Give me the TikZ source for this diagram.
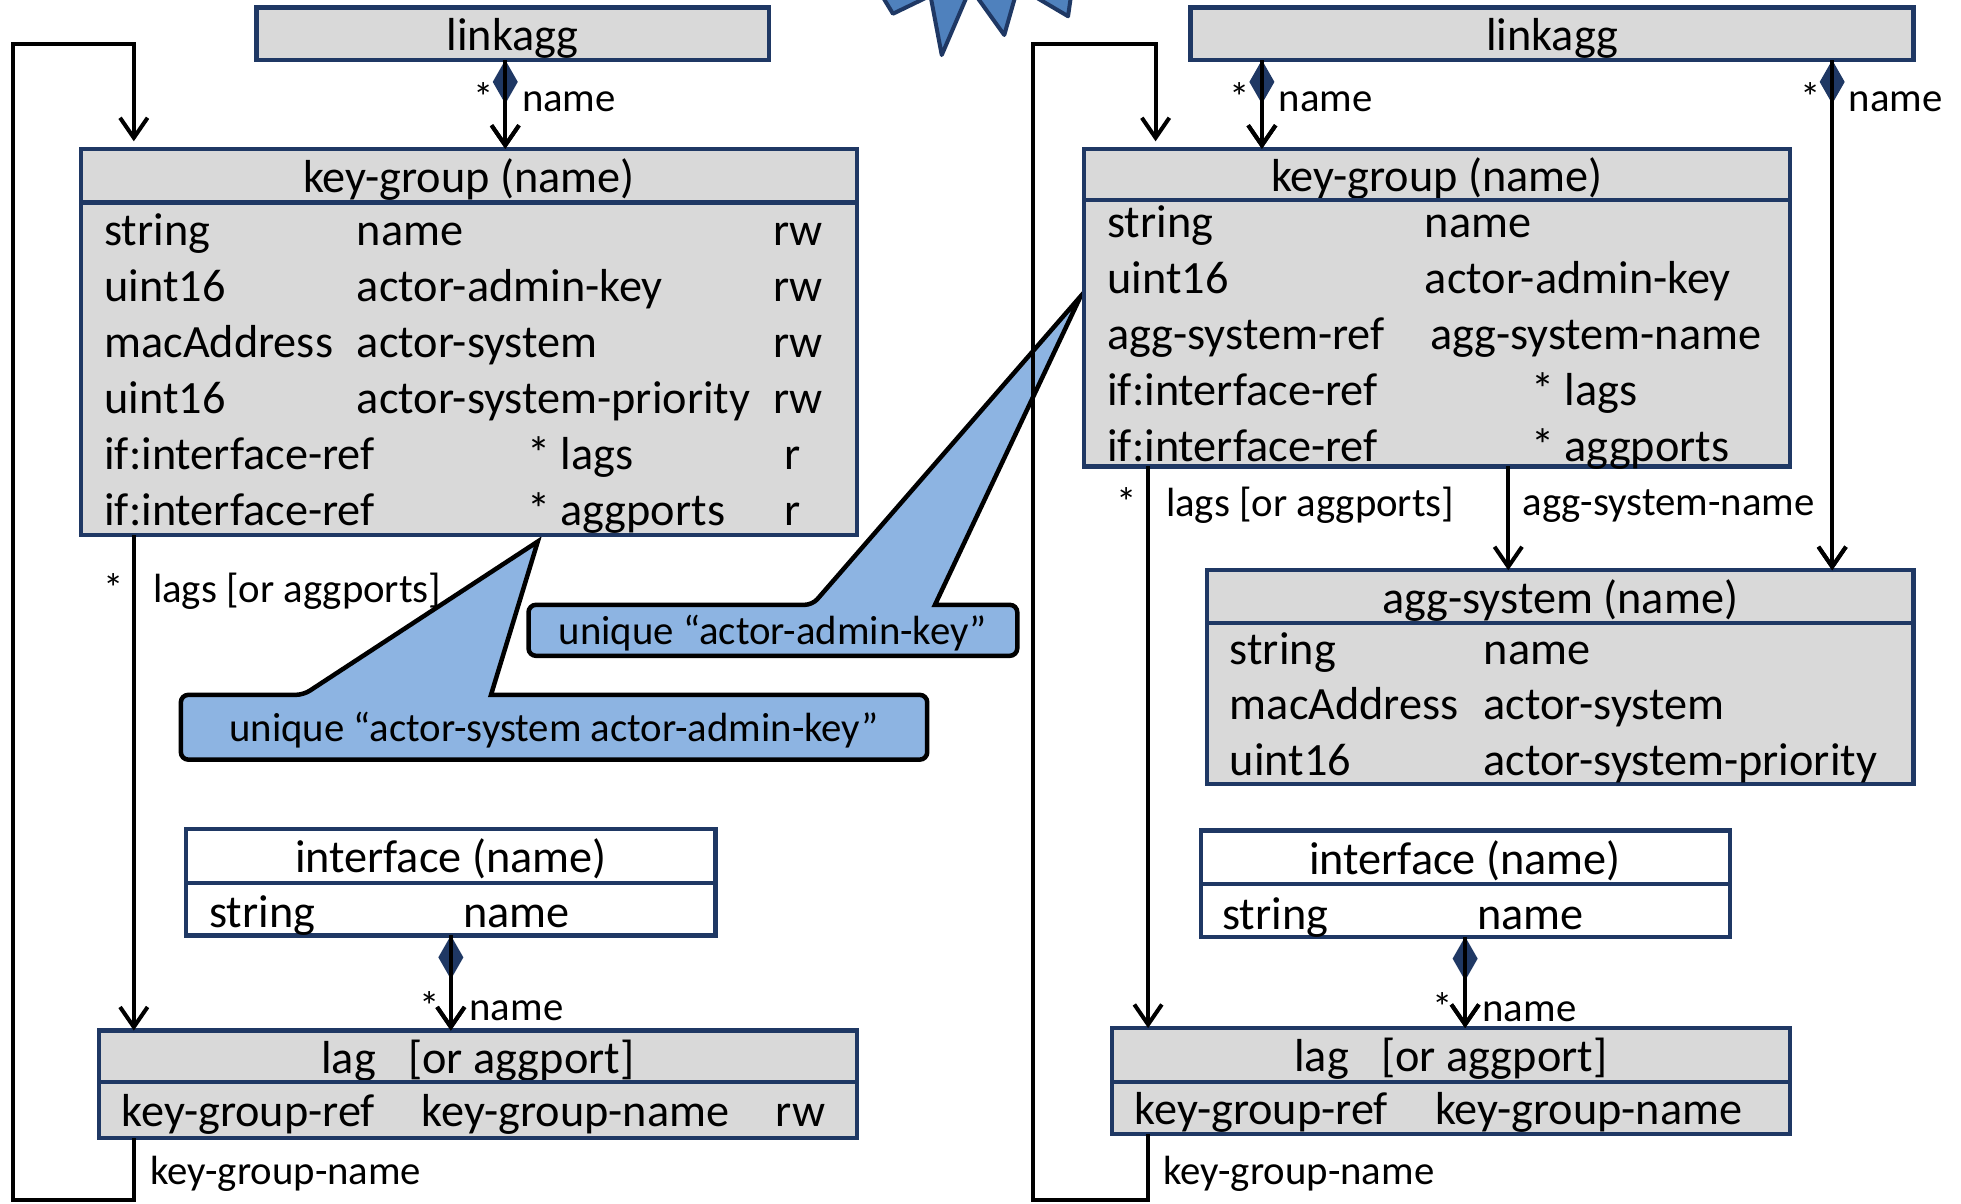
\documentclass[tikz,border=0pt]{standalone}
\usepackage{fontspec}
\setmainfont{Carlito}
\usetikzlibrary{positioning,calc,arrows.meta,backgrounds}
\definecolor{navy}{HTML}{1F3864}
\definecolor{boxgray}{HTML}{D9D9D9}
\definecolor{noteblue}{HTML}{8DB4E2}
\definecolor{starblue}{HTML}{4F81BD}

\begin{document}
\begin{tikzpicture}[x=0.5pt, y=-0.5pt,
        head/.style={rectangle, draw=navy, fill=boxgray, line width=1.7pt, outer sep=0pt, inner sep=0pt, text height=17pt, text depth=3.5pt, font=\fontsize{18.5}{22}\selectfont},
        cell/.style={anchor=base west, inner sep=0pt, font=\fontsize{18.5}{22}\selectfont},
        lbl/.style={anchor=base west, inner sep=0pt, font=\fontsize{16.3}{19}\selectfont},
        mult/.style={lbl, anchor=base east},
        notetext/.style={inner sep=0pt, text height=14.5pt, text depth=3.3pt, font=\fontsize{16.3}{19}\selectfont},
        note/.style={draw=black, fill=noteblue, line width=1.8pt},
        conn/.style={line width=1.6pt, -{Straight Barb[length=8pt,width=11pt]}},
        comp/.style={line width=1.6pt, {Diamond[length=17.5pt,width=10pt,color=navy,fill=navy]}-{Straight Barb[length=8pt,width=11pt]}, postaction={draw, -{Straight Barb[length=8pt,width=11pt]}}},
    ]
    \useasboundingbox (0,0) rectangle (1568,962);

    \draw[line width=1.6pt, draw=navy, fill=starblue, line join=round] (700,-12) -- (714,11) -- (744,-3.5) -- (753,44) -- (776,-9.6) -- (803,28) -- (814,-10.6) -- (854,13) -- (858,-15) -- (780,-60) -- cycle;

    % left model
    \node[head, minimum width=205pt, minimum height=21pt] (lkL) at (410,27) {linkagg};
    \node[head, minimum width=310pt, minimum height=21.5pt] (kgLh) at (375,140.5) {key-group (name)};
    \node[head, minimum width=310pt, minimum height=133pt, below=0pt of kgLh] (kgLb) {};
    \node[head, fill=white, minimum width=211.5pt, minimum height=21.5pt] (ifLh) at (360.5,684.5) {interface (name)};
    \node[head, fill=white, minimum width=211.5pt, minimum height=21pt, below=0pt of ifLh] (ifLb) {};
    \node[head, minimum width=303pt, minimum height=20.5pt] (lagLh) at (382,844.5) {lag\hspace{13pt}[or aggport]};
    \node[head, minimum width=303pt, minimum height=22.5pt, below=0pt of lagLh] (lagLb) {};

    \foreach \ty/\nm/\ac [count=\i] in {string/name/rw, uint16/actor-admin-key/rw, macAddress/actor-system/rw, uint16/actor-system-priority/rw, if:interface-ref/{\hspace*{68pt}* lags}/{\hspace*{4.5pt}r}, if:interface-ref/{\hspace*{68pt}* aggports}/{\hspace*{4.5pt}r}} {
        \node[cell] (kgL-t\i) at ($(kgLb.north west)+(18,{34+44.8*(\i-1)})$) {\ty};
        \node[cell] (kgL-n\i) at ($(kgLb.north west)+(220,{34+44.8*(\i-1)})$) {\nm};
        \node[cell] (kgL-a\i) at ($(kgLb.north west)+(553,{34+44.8*(\i-1)})$) {\ac};
    }
    \node[cell] (ifL-t) at ($(ifLb.north west)+(18,36)$) {string};
    \node[cell] (ifL-n) at ($(ifLb.north west)+(221,36)$) {name};
    \node[cell] (lagL-t) at ($(lagLb.north west)+(18,36)$) {key-group-ref};
    \node[cell] (lagL-n) at ($(lagLb.north west)+(258,36)$) {key-group-name};
    \node[cell] (lagL-a) at ($(lagLb.north west)+(541,36)$) {rw};

    \coordinate (loopLb) at (10,959.5);
    \coordinate (loopLt) at (10,35);
    \draw[comp] ([xshift=-3pt]lkL.south) -- ([xshift=-3pt]lkL.south |- kgLh.north);
    \draw[conn] ([xshift=21pt]kgLb.south west) -- ([xshift=21pt]kgLb.south west |- lagLh.north);
    \draw[comp] (ifLb.south) -- (ifLb.south |- lagLh.north);
    \draw[conn, shorten >=3pt] ([xshift=14pt]lagLb.south west) |- (loopLb) -- (loopLt) -| ([xshift=21pt]kgLh.north west);

    \node[mult] (mL1) at (395,89) {*};
    \node[lbl] (nL1) at (417,89) {name};
    \node[mult] (mL2) at (99,482) {*};
    \node[lbl] (nL2) at (122,482) {lags [or aggports]};
    \node[mult] (mL3) at (352,816) {*};
    \node[lbl] (nL3) at (375,816) {name};
    \node[lbl] (nL4) at (120,947) {key-group-name};

    % notes
    \node[notetext, minimum width=298pt, minimum height=25.5pt] (c1) at (443,581.5) {unique “actor-system actor-admin-key”};
    \node[notetext, minimum width=195pt, minimum height=20pt] (c2) at (618,504) {unique “actor-admin-key”};
    \coordinate (c1tip) at (430,433);
    \coordinate (c2tip) at (864,237);
    \begin{scope}[on background layer]
        \draw[note] ([xshift=49pt]c1.north west) -- (c1tip) -- ([xshift=124pt]c1.north west) [rounded corners=3pt] -- (c1.north east) -- (c1.south east) -- (c1.south west) -- (c1.north west) -- cycle;
        \draw[note] ([xshift=113.5pt]c2.north west) -- (c2tip) -- ([xshift=162.5pt]c2.north west) [rounded corners=3pt] -- (c2.north east) -- (c2.south east) -- (c2.south west) -- (c2.north west) -- cycle;
    \end{scope}

    % right model
    \node[head, minimum width=289pt, minimum height=21pt] (lkR) at (1241,27) {linkagg};
    \node[head, minimum width=282pt, minimum height=20.5pt] (kgRh) at (1149,139.5) {key-group (name)};
    \node[head, minimum width=282pt, minimum height=106.5pt, below=0pt of kgRh] (kgRb) {};
    \node[head, minimum width=282.5pt, minimum height=21pt] (aggh) at (1247.5,477) {agg-system (name)};
    \node[head, minimum width=282.5pt, minimum height=64.5pt, below=0pt of aggh] (aggb) {};
    \node[head, fill=white, minimum width=211.5pt, minimum height=21.5pt] (ifRh) at (1171.5,685.5) {interface (name)};
    \node[head, fill=white, minimum width=211.5pt, minimum height=21pt, below=0pt of ifRh] (ifRb) {};
    \node[head, minimum width=271pt, minimum height=21.5pt] (lagRh) at (1160,843.5) {lag\hspace{13pt}[or aggport]};
    \node[head, minimum width=271pt, minimum height=21pt, below=0pt of lagRh] (lagRb) {};

    \foreach \ty/\nm [count=\i] in {string/name, uint16/actor-admin-key, agg-system-ref/{\hspace*{2pt}agg-system-name}, if:interface-ref/{\hspace*{42.5pt}* lags}, if:interface-ref/{\hspace*{42.5pt}* aggports}} {
        \node[cell] (kgR-t\i) at ($(kgRb.north west)+(18,{30+44.8*(\i-1)})$) {\ty};
        \node[cell] (kgR-n\i) at ($(kgRb.north west)+(272,{30+44.8*(\i-1)})$) {\nm};
    }
    \foreach \ty/\nm [count=\i] in {string/name, macAddress/actor-system, uint16/actor-system-priority} {
        \node[cell] (agg-t\i) at ($(aggb.north west)+(18,{33+44.5*(\i-1)})$) {\ty};
        \node[cell] (agg-n\i) at ($(aggb.north west)+(221,{33+44.5*(\i-1)})$) {\nm};
    }
    \node[cell] (ifR-t) at ($(ifRb.north west)+(17,36)$) {string};
    \node[cell] (ifR-n) at ($(ifRb.north west)+(221,36)$) {name};
    \node[cell] (lagR-t) at ($(lagRb.north west)+(18,34)$) {key-group-ref};
    \node[cell] (lagR-n) at ($(lagRb.north west)+(258,34)$) {key-group-name};

    \coordinate (loopRb) at (826,959.5);
    \coordinate (loopRt) at (826,35);
    \draw[comp] ([xshift=28.5pt]lkR.south west) -- ([xshift=28.5pt]lkR.south west |- kgRh.north);
    \draw[comp] ([xshift=-32.5pt]lkR.south east) -- ([xshift=-32.5pt]lkR.south east |- aggh.north);
    \draw[conn] ([xshift=25.5pt]kgRb.south west) -- ([xshift=25.5pt]kgRb.south west |- lagRh.north);
    \draw[conn] ([xshift=169.5pt]kgRb.south west) -- ([xshift=169.5pt]kgRb.south west |- aggh.north);
    \draw[comp] (ifRb.south) -- (ifRb.south |- lagRh.north);
    \draw[conn, shorten >=3pt] ([xshift=14.5pt]lagRb.south west) |- (loopRb) -- (loopRt) -| ([xshift=28.5pt]kgRh.north west);

    \node[mult] (mR1) at (1000,89) {*};
    \node[lbl] (nR1) at (1022,89) {name};
    \node[mult] (mR2) at (1456,89) {*};
    \node[lbl] (nR2) at (1478,89) {name};
    \node[mult] (mR3) at (909,413) {*};
    \node[lbl] (nR3) at (932,413) {lags [or aggports]};
    \node[lbl] (nR4) at (1217,412) {agg-system-name};
    \node[mult] (mR5) at (1162,817) {*};
    \node[lbl] (nR5) at (1185,817) {name};
    \node[lbl] (nR6) at (930,947) {key-group-name};
\end{tikzpicture}
\end{document}
